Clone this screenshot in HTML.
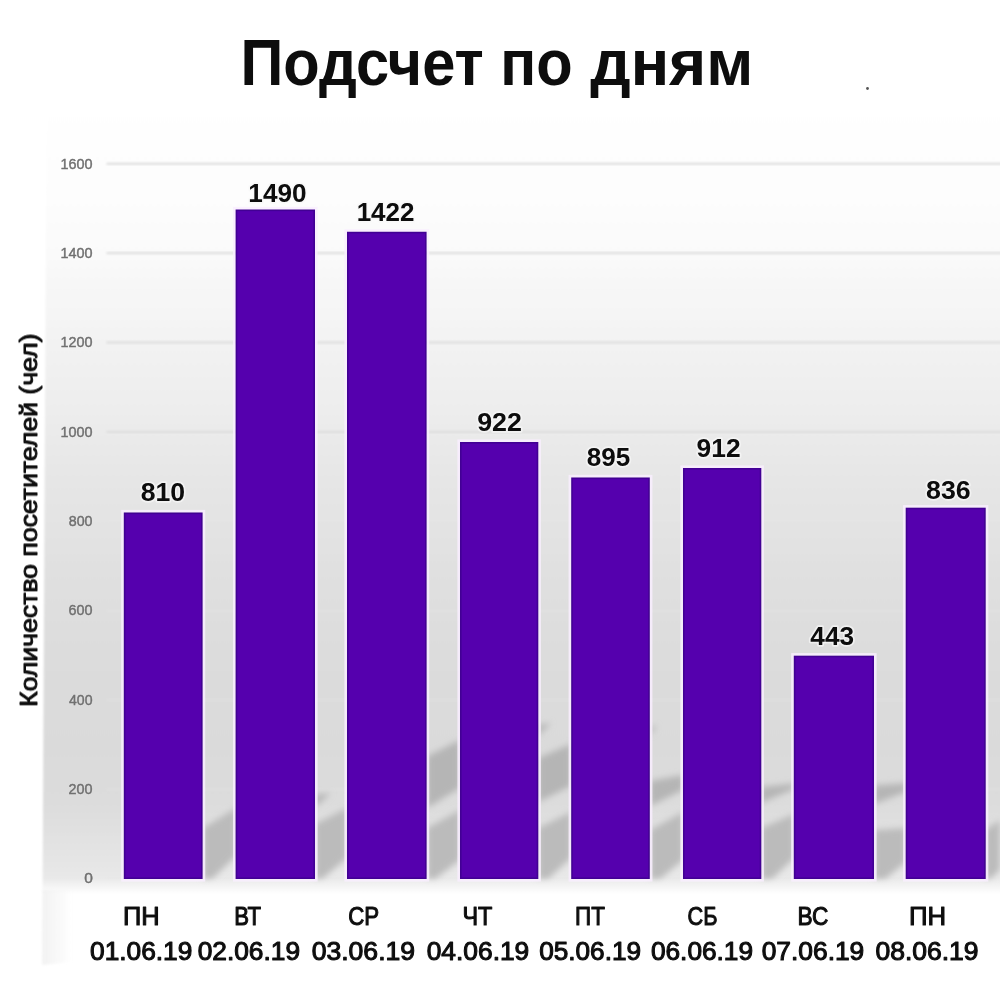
<!DOCTYPE html>
<html lang="ru">
<head>
<meta charset="utf-8">
<title>Подсчет по дням</title>
<style>
html,body{margin:0;padding:0;background:#fff;}
body{width:1000px;height:1000px;overflow:hidden;font-family:"Liberation Sans",sans-serif;}
svg{display:block;}
text{font-family:"Liberation Sans",sans-serif;}
.title{font-weight:bold;font-size:64.3px;fill:#080808;}
.val{font-weight:bold;font-size:26px;fill:#0a0a0a;paint-order:stroke;stroke:#f8f8f8;stroke-opacity:.7;stroke-width:3.4px;stroke-linejoin:round;}
.day{font-size:25.2px;fill:#111;stroke:#111;stroke-width:1.05px;stroke-linejoin:round;}
.tick{font-size:15.5px;fill:#707070;stroke:#707070;stroke-width:0.45px;}
.ytitle{font-size:24.8px;fill:#0a0a0a;stroke:#0a0a0a;stroke-width:0.95px;stroke-linejoin:round;}
.bar{fill:#5400ae;stroke:#430094;stroke-width:1.6px;}
.halo{fill:none;stroke:#f9eeff;stroke-width:2.6px;stroke-opacity:.85;}
.grid{stroke:#dcdcdc;stroke-width:2px;}
.sh{fill:#b5b5b5;}
.sh2{fill:#bbbbbb;}
</style>
</head>
<body>
<svg width="1000" height="1000" viewBox="0 0 1000 1000">
<defs>
<linearGradient id="bg" gradientUnits="userSpaceOnUse" x1="0" y1="95" x2="0" y2="880">
<stop offset="0.0000" stop-color="#ffffff"/>
<stop offset="0.0484" stop-color="#fefefe"/>
<stop offset="0.1376" stop-color="#fdfdfd"/>
<stop offset="0.2013" stop-color="#fafafa"/>
<stop offset="0.2586" stop-color="#f6f6f6"/>
<stop offset="0.3732" stop-color="#efefef"/>
<stop offset="0.4879" stop-color="#e6e6e6"/>
<stop offset="0.6115" stop-color="#e0e0e0"/>
<stop offset="0.7197" stop-color="#dcdcdc"/>
<stop offset="0.8318" stop-color="#dadada"/>
<stop offset="0.8981" stop-color="#dcdcdc"/>
<stop offset="0.9592" stop-color="#e3e3e3"/>
<stop offset="0.9822" stop-color="#e6e6e6"/>
<stop offset="1.0000" stop-color="#e9e9e9"/>
</linearGradient>
<linearGradient id="fade" gradientUnits="userSpaceOnUse" x1="0" y1="878" x2="0" y2="894">
<stop offset="0" stop-color="#fff" stop-opacity="0"/>
<stop offset="1" stop-color="#fff" stop-opacity="1"/>
</linearGradient>
<linearGradient id="smudge" gradientUnits="userSpaceOnUse" x1="42" y1="0" x2="72" y2="0">
<stop offset="0" stop-color="#eeeeee" stop-opacity="0.75"/>
<stop offset="1" stop-color="#eeeeee" stop-opacity="0"/>
</linearGradient>
<filter id="b1" x="-20%" y="-20%" width="140%" height="140%"><feGaussianBlur stdDeviation="3"/></filter>
<filter id="b4" x="-5%" y="-5%" width="110%" height="110%"><feGaussianBlur stdDeviation="1"/></filter>
<filter id="b3" x="-5%" y="-5%" width="110%" height="110%"><feGaussianBlur stdDeviation="0.6"/></filter>
<filter id="bt" x="-5%" y="-20%" width="110%" height="140%"><feGaussianBlur stdDeviation="0.4"/></filter>
<filter id="b6" x="-5%" y="-5%" width="110%" height="110%"><feGaussianBlur stdDeviation="0.5"/></filter>
<filter id="b5" x="-5%" y="-50%" width="110%" height="200%"><feGaussianBlur stdDeviation="0.9"/></filter>
</defs>
<rect x="0" y="0" width="1000" height="1000" fill="#ffffff"/>
<g filter="url(#b4)">
<polygon points="46.6,95 1020,95 1020,910 42.5,910" fill="url(#bg)"/>
</g>
<g>
<rect x="106.5" y="162.8" width="900" height="2" fill="#dcdcdc" fill-opacity="1" filter="url(#b5)"/>
<rect x="106.5" y="252.1" width="900" height="2" fill="#dcdcdc" fill-opacity="1" filter="url(#b5)"/>
<rect x="106.5" y="341.5" width="900" height="2" fill="#dcdcdc" fill-opacity="1" filter="url(#b5)"/>
<rect x="106.5" y="430.9" width="900" height="2" fill="#dcdcdc" fill-opacity="1" filter="url(#b5)"/>
<rect x="106.5" y="520.3" width="900" height="2" fill="#e4e4e4" fill-opacity="0.45" filter="url(#b5)"/>
<rect x="106.5" y="609.7" width="900" height="2" fill="#e4e4e4" fill-opacity="0.45" filter="url(#b5)"/>
<rect x="106.5" y="699.0" width="900" height="2" fill="#e4e4e4" fill-opacity="0.45" filter="url(#b5)"/>
<rect x="106.5" y="788.4" width="900" height="2" fill="#e4e4e4" fill-opacity="0.45" filter="url(#b5)"/>
<rect x="106.5" y="877.0" width="900" height="2" fill="#e4e4e4" fill-opacity="0.45" filter="url(#b5)"/>
</g>
<g filter="url(#b1)">
<polygon class="sh2" points="203,828 236,808 236,856 212,879 203,879"/>
<polygon class="sh2" points="315,824 347,808 347,858 322,879 315,879"/>
<polygon class="sh" points="315,795 331,793 315,807"/>
<polygon class="sh" points="427,756.3 460,740 460,788 427,808"/>
<polygon class="sh2" points="427,828 460,810 460,860 435,879 427,879"/>
<polygon class="sh" points="538,758 571,744 571,786 538,802"/>
<polygon class="sh2" points="538,828 571,812 571,858 548,879 538,879"/>
<polygon class="sh" points="538,725 551,723 538,736"/>
<polygon class="sh" points="650,781 683,775 683,790 650,806"/>
<polygon class="sh" points="650,727 657,726 650,735"/>
<polygon class="sh2" points="650,830 683,812 683,860 660,879 650,879"/>
<polygon class="sh" points="761,787 794,783.5 794,789 761,803"/>
<polygon class="sh2" points="761,828 794,814 794,858 772,879 761,879"/>
<polygon class="sh" points="874,785.5 906,783 906,792 874,804"/>
<polygon class="sh2" points="874,830 906,828 906,862 885,879 874,879"/>
<polygon class="sh2" points="985,830 1000,820 1000,870 990,879 985,879"/>
</g>
<rect x="0" y="878" width="1000" height="122" fill="url(#fade)"/>
<polygon points="42.5,890 72,890 72,962 42.1,965" fill="url(#smudge)" filter="url(#b4)"/>
<g filter="url(#b3)">
<rect class="halo" x="122.50" y="511.20" width="81.40" height="369.10"/>
<rect class="halo" x="234.30" y="208.20" width="82.00" height="672.10"/>
<rect class="halo" x="345.70" y="230.45" width="82.20" height="649.85"/>
<rect class="halo" x="458.70" y="440.70" width="80.90" height="439.60"/>
<rect class="halo" x="569.90" y="476.20" width="81.20" height="404.10"/>
<rect class="halo" x="681.70" y="466.70" width="80.90" height="413.60"/>
<rect class="halo" x="792.50" y="654.40" width="82.80" height="225.90"/>
<rect class="halo" x="904.40" y="506.40" width="82.60" height="373.90"/>
<rect class="bar" x="124.60" y="513.30" width="77.20" height="364.90"/>
<rect class="bar" x="236.40" y="210.30" width="77.80" height="667.90"/>
<rect class="bar" x="347.80" y="232.55" width="78.00" height="645.65"/>
<rect class="bar" x="460.80" y="442.80" width="76.70" height="435.40"/>
<rect class="bar" x="572.00" y="478.30" width="77.00" height="399.90"/>
<rect class="bar" x="683.80" y="468.80" width="76.70" height="409.40"/>
<rect class="bar" x="794.60" y="656.50" width="78.60" height="221.70"/>
<rect class="bar" x="906.50" y="508.50" width="78.40" height="369.70"/>
</g>
<text class="title" filter="url(#bt)" y="84.7"><tspan x="240.53" textLength="243.23" lengthAdjust="spacingAndGlyphs">Подсчет</tspan> <tspan x="500.27" textLength="72.43" lengthAdjust="spacingAndGlyphs">по</tspan> <tspan x="590.25" textLength="163.07" lengthAdjust="spacingAndGlyphs">дням</tspan></text>
<g filter="url(#bt)">
<text class="val" x="140.67" y="501.10" textLength="44.41" lengthAdjust="spacingAndGlyphs">810</text>
<text class="val" x="248.37" y="201.80" textLength="58.20" lengthAdjust="spacingAndGlyphs">1490</text>
<text class="val" x="356.63" y="221.40" textLength="57.77" lengthAdjust="spacingAndGlyphs">1422</text>
<text class="val" x="477.16" y="431.40" textLength="44.76" lengthAdjust="spacingAndGlyphs">922</text>
<text class="val" x="586.69" y="465.70" textLength="43.46" lengthAdjust="spacingAndGlyphs">895</text>
<text class="val" x="696.58" y="457.40" textLength="43.98" lengthAdjust="spacingAndGlyphs">912</text>
<text class="val" x="810.30" y="644.90" textLength="43.75" lengthAdjust="spacingAndGlyphs">443</text>
<text class="val" x="926.06" y="499.30" textLength="44.60" lengthAdjust="spacingAndGlyphs">836</text>
</g>
<g filter="url(#bt)">
<text class="day" x="122.94" y="925.10" textLength="36.61" lengthAdjust="spacingAndGlyphs">ПН</text>
<text class="day" x="90.10" y="959.90" textLength="102.24" lengthAdjust="spacingAndGlyphs">01.06.19</text>
<text class="day" x="234.30" y="925.10" textLength="26.81" lengthAdjust="spacingAndGlyphs">ВТ</text>
<text class="day" x="197.70" y="959.90" textLength="102.34" lengthAdjust="spacingAndGlyphs">02.06.19</text>
<text class="day" x="348.23" y="925.10" textLength="30.93" lengthAdjust="spacingAndGlyphs">СР</text>
<text class="day" x="311.70" y="959.90" textLength="103.36" lengthAdjust="spacingAndGlyphs">03.06.19</text>
<text class="day" x="462.44" y="925.10" textLength="29.93" lengthAdjust="spacingAndGlyphs">ЧТ</text>
<text class="day" x="426.70" y="959.90" textLength="102.59" lengthAdjust="spacingAndGlyphs">04.06.19</text>
<text class="day" x="575.02" y="925.10" textLength="29.84" lengthAdjust="spacingAndGlyphs">ПТ</text>
<text class="day" x="539.21" y="959.90" textLength="101.83" lengthAdjust="spacingAndGlyphs">05.06.19</text>
<text class="day" x="687.51" y="925.10" textLength="29.99" lengthAdjust="spacingAndGlyphs">СБ</text>
<text class="day" x="650.96" y="959.90" textLength="102.08" lengthAdjust="spacingAndGlyphs">06.06.19</text>
<text class="day" x="797.50" y="925.10" textLength="30.76" lengthAdjust="spacingAndGlyphs">ВС</text>
<text class="day" x="761.70" y="959.90" textLength="102.59" lengthAdjust="spacingAndGlyphs">07.06.19</text>
<text class="day" x="909.02" y="925.10" textLength="37.06" lengthAdjust="spacingAndGlyphs">ПН</text>
<text class="day" x="875.45" y="959.90" textLength="103.10" lengthAdjust="spacingAndGlyphs">08.06.19</text>
</g>
<g filter="url(#b6)">
<text class="tick" x="60.53" y="168.50" textLength="32.01" lengthAdjust="spacingAndGlyphs">1600</text>
<text class="tick" x="60.53" y="257.80" textLength="32.01" lengthAdjust="spacingAndGlyphs">1400</text>
<text class="tick" x="60.53" y="347.20" textLength="32.01" lengthAdjust="spacingAndGlyphs">1200</text>
<text class="tick" x="60.53" y="436.60" textLength="32.01" lengthAdjust="spacingAndGlyphs">1000</text>
<text class="tick" x="68.78" y="526.00" textLength="23.75" lengthAdjust="spacingAndGlyphs">800</text>
<text class="tick" x="68.55" y="615.40" textLength="23.98" lengthAdjust="spacingAndGlyphs">600</text>
<text class="tick" x="69.00" y="704.70" textLength="23.52" lengthAdjust="spacingAndGlyphs">400</text>
<text class="tick" x="68.55" y="794.10" textLength="23.98" lengthAdjust="spacingAndGlyphs">200</text>
<text class="tick" x="84.14" y="882.70" textLength="8.62" lengthAdjust="spacingAndGlyphs">0</text>
</g>
<text class="ytitle" filter="url(#bt)" transform="translate(37.0,705.4) rotate(-90)" x="-1.61" y="0" textLength="373.51" lengthAdjust="spacingAndGlyphs">Количество посетителей (чел)</text>
<circle cx="867.5" cy="88.5" r="1.4" fill="#555"/>
</svg>
</body>
</html>
